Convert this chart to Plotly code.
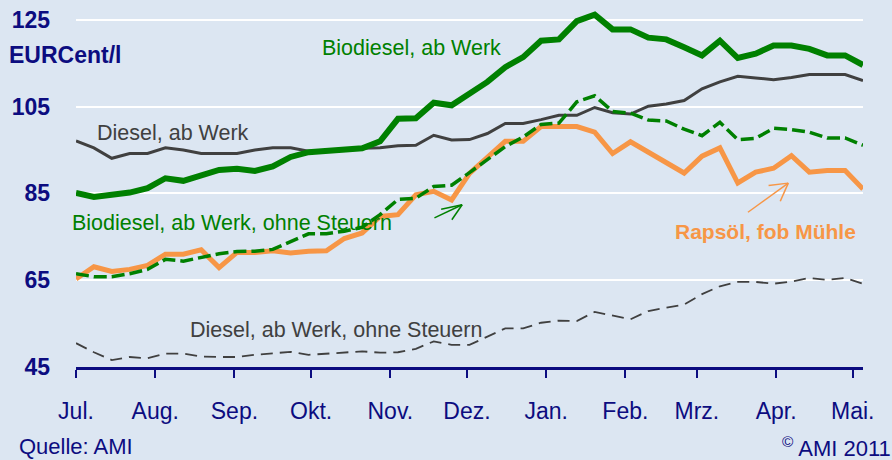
import plotly.graph_objects as go
import pandas as pd

# ---- data (EURCent/l), weekly from July 2010 to May 2011 ----
weeks = pd.date_range("2010-07-01", periods=45, freq="7D")

biodiesel = [85.1, 84.2, 84.7, 85.2, 86.2, 88.5, 87.9, 89.3, 90.4, 90.7,
             90.2, 91.2, 93.4, 94.5, 94.9, 95.0, 95.4, 97.0, 102.2, 102.3,
             105.9, 105.3, 107.8, 110.7, 114.1, 116.4, 120.2, 120.5, 124.7, 126.2,
             122.8, 122.8, 120.9, 120.5, 118.7, 116.8, 120.2, 116.2, 117.2, 119.1,
             119.1, 118.3, 116.8, 116.8, 114.6]

diesel = [97.1, 95.5, 93.1, 94.2, 94.2, 95.5, 95.0, 94.2, 94.2, 94.2,
          95.0, 95.5, 95.5, 94.7, 94.9, 95.3, 95.4, 95.5, 96.0, 96.1,
          98.4, 97.3, 97.4, 98.8, 101.1, 101.1, 102.0, 103.0, 103.0, 104.8,
          103.6, 103.3, 105.1, 105.6, 106.4, 109.1, 110.7, 112.0, 111.6, 111.2,
          111.7, 112.4, 112.4, 112.4, 111.0]

biodiesel_ohne = [66.5, 65.8, 65.8, 66.5, 67.5, 69.8, 69.4, 70.3, 71.1, 71.6,
                  71.7, 72.1, 74.0, 75.7, 75.7, 76.3, 77.2, 80.1, 83.6, 83.9,
                  86.6, 86.9, 89.8, 92.8, 95.8, 98.0, 100.9, 101.2, 106.1, 107.5,
                  103.9, 103.5, 101.9, 101.7, 99.8, 98.3, 101.4, 97.4, 97.7, 100.0,
                  99.7, 99.1, 97.8, 97.8, 96.1]

rapsoel = [65.3, 68.1, 67.0, 67.5, 68.4, 71.0, 71.0, 72.0, 67.9, 71.4,
           71.4, 71.8, 71.3, 71.7, 71.8, 74.6, 75.9, 79.7, 80.1, 84.7,
           85.5, 83.5, 89.6, 93.4, 97.0, 97.0, 100.4, 100.4, 100.4, 99.1,
           94.2, 96.9, 94.6, 92.3, 89.7, 93.6, 95.5, 87.4, 89.9, 90.8,
           93.7, 89.9, 90.3, 90.3, 86.0]

diesel_ohne = [50.5, 48.4, 46.6, 47.3, 47.0, 48.1, 48.1, 47.4, 47.3, 47.3,
               47.8, 48.2, 48.5, 47.8, 48.1, 48.4, 48.6, 48.3, 48.4, 49.2,
               50.9, 50.1, 50.1, 52.0, 53.9, 53.9, 55.2, 55.7, 55.6, 57.7,
               56.8, 56.0, 57.9, 58.6, 59.4, 61.8, 63.6, 64.6, 64.6, 64.2,
               64.7, 65.5, 65.1, 65.5, 64.2]

month_ticks = ["2010-07-01", "2010-08-01", "2010-09-01", "2010-10-01", "2010-11-01",
               "2010-12-01", "2011-01-01", "2011-02-01", "2011-03-01", "2011-04-01",
               "2011-05-01"]
month_labels = ["Jul.", "Aug.", "Sep.", "Okt.", "Nov.", "Dez.", "Jan.", "Feb.",
                "Mrz.", "Apr.", "Mai."]
y_ticks = [45, 65, 85, 105, 125]

# ---- styling ----
W, H = 892, 460
L, R, T, B = 76, 29.3, 6.5, 93.3
PW, PH = W - L - R, H - T - B
BG = "#DCE6F2"
NAVY = "#0C0C80"
GREEN = "#008000"
ORANGE = "#F79646"
GREY = "#404040"
FONT = "Liberation Sans, Arial, sans-serif"


def px(x):
    return (x - L) / PW


def py(y):
    return (H - B - y) / PH


fig = go.Figure()
fig.add_trace(go.Scatter(x=weeks, y=diesel_ohne, mode="lines",
                         line=dict(color=GREY, width=1.8, dash="12px,7px")))
fig.add_trace(go.Scatter(x=weeks, y=diesel, mode="lines",
                         line=dict(color=GREY, width=3)))
fig.add_trace(go.Scatter(x=weeks, y=rapsoel, mode="lines",
                         line=dict(color=ORANGE, width=5)))
fig.add_trace(go.Scatter(x=weeks, y=biodiesel, mode="lines",
                         line=dict(color=GREEN, width=6)))
fig.add_trace(go.Scatter(x=weeks, y=biodiesel_ohne, mode="lines",
                         line=dict(color=GREEN, width=3.5, dash="13px,5px")))

labels = [
    ("Biodiesel, ab Werk", 320, 46, GREEN),
    ("Diesel, ab Werk", 95, 131, GREY),
    ("Biodiesel, ab Werk, ohne Steuern", 70, 222, GREEN),
    ("Diesel, ab Werk, ohne Steuern", 188, 329, GREY),
]
ann = []
for text, x, y, col in labels:
    ann.append(dict(text=text, x=px(x), y=py(y), xref="paper", yref="paper",
                    xanchor="left", yanchor="middle", showarrow=False,
                    font=dict(family=FONT, size=21.5, color=col)))
ann.append(dict(text="<b>Rapsöl, fob Mühle</b>", x=px(858), y=py(230), xref="paper",
                yref="paper", xanchor="right", yanchor="middle", showarrow=False,
                font=dict(family=FONT, size=21, color=ORANGE)))
ann.append(dict(text="<b>EURCent/l</b>", x=px(7), y=py(53), xref="paper", yref="paper",
                xanchor="left", yanchor="middle", showarrow=False,
                font=dict(family=FONT, size=23, color=NAVY)))
ann.append(dict(text="Quelle: AMI", x=px(17), y=py(447), xref="paper", yref="paper",
                xanchor="left", yanchor="middle", showarrow=False,
                font=dict(family=FONT, size=22, color=NAVY)))
ann.append(dict(text="<sup>©</sup> AMI 2011", x=px(893), y=py(447), xref="paper",
                yref="paper", xanchor="right", yanchor="middle", showarrow=False,
                font=dict(family=FONT, size=22, color=NAVY)))

# decorative pointer arrows (open V heads)
shapes = []
for tail, tip, arms, col in [
    ((434.3, 216.7), (462.0, 203.5), [(441.0, 208.0), (451.7, 218.5)], GREEN),
    ((747.7, 211.0), (788.0, 181.7), [(768.3, 184.0), (780.0, 200.0)], ORANGE),
]:
    for a in [tail] + arms:
        shapes.append(dict(type="line", xref="paper", yref="paper",
                           x0=px(a[0]), y0=py(a[1]), x1=px(tip[0]), y1=py(tip[1]),
                           line=dict(color=col, width=1.5)))

fig.update_layout(
    width=W, height=H,
    margin=dict(l=L, r=R, t=T, b=B, pad=0),
    paper_bgcolor=BG, plot_bgcolor=BG,
    showlegend=False,
    annotations=ann,
    shapes=shapes,
    xaxis=dict(range=["2010-07-01", "2011-05-05"], tickvals=month_ticks,
               ticktext=month_labels, showgrid=False, zeroline=False,
               showline=True, linecolor=NAVY, linewidth=2.5,
               ticks="outside", ticklen=8, tickwidth=2, tickcolor=NAVY,
               ticklabelstandoff=14,
               tickfont=dict(family=FONT, size=23, color=NAVY)),
    yaxis=dict(range=[45, 127.5], tickvals=y_ticks, showgrid=True,
               gridcolor="white", gridwidth=2, zeroline=False, showline=False,
               ticks="", ticklabelstandoff=25,
               tickfont=dict(family=FONT, size=23, color=NAVY, weight="bold")),
)

fig.write_html("out.html",
               config={"displayModeBar": False},
               post_script="document.body.style.margin='0';"
                           "document.body.style.overflow='hidden';"
                           "document.body.style.background='" + BG + "';")
